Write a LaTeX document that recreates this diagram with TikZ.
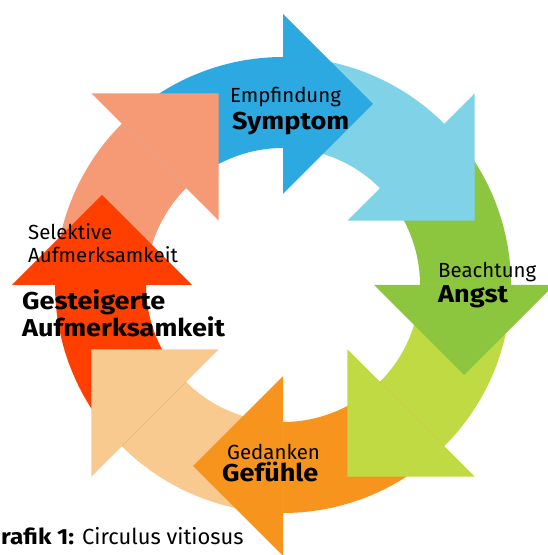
\documentclass[tikz,border=0pt]{standalone}
\usepackage{fontspec}
\setmainfont{Fira Sans}
\newfontfamily\widebf{Fira Sans}[FakeStretch=1.11]
\definecolor{cblue}{HTML}{2DA9E1}
\definecolor{clblue}{HTML}{80D3E6}
\definecolor{cgreen}{HTML}{8CC63F}
\definecolor{cyg}{HTML}{BFDA43}
\definecolor{corange}{HTML}{F7941E}
\definecolor{cpeach}{HTML}{F8CA8F}
\definecolor{cred}{HTML}{FF3F00}
\definecolor{csalmon}{HTML}{F69A75}
\begin{document}
\begin{tikzpicture}[x=1bp,y=1bp,
  lab/.style={anchor=base west, inner sep=0pt, font=\fontsize{20.5}{24}\selectfont},
  blab/.style={anchor=base west, inner sep=0pt, font=\fontsize{24.5}{29}\widebf\bfseries}]
\useasboundingbox (0,0) rectangle (548,555);
\clip (0,0) rectangle (548,555);
% ring segments (tails)
\foreach \ang/\col in {90/cblue,45/clblue,0/cgreen,-45/cyg,-90/corange,-135/cpeach,-180/cred,-225/csalmon}{
  \fill[\col, shift={(283,270)}, rotate=\ang-90]
    (135:228) arc[start angle=135, end angle=90, radius=228]
    -- (90:137) arc[start angle=90, end angle=135, radius=137] -- cycle;
}
% arrow heads
\foreach \ang/\col in {90/cblue,45/clblue,0/cgreen,-45/cyg,-90/corange,-135/cpeach,-180/cred,-225/csalmon}{
  \fill[\col, shift={(283,270)}, rotate=\ang-90]
    (0,271) -- (0,91) -- (90,181) -- cycle;
}
% labels
\node[lab]  (e1) at (230,452) {Empfindung};
\node[blab] (s1) at (232,425) {Symptom};
\node[lab]  (e2) at (438,277) {Beachtung};
\node[blab] (s2) at (438,252) {Angst};
\node[lab]  (e3) at (227,95) {Gedanken};
\node[blab] (s3) at (222,73) {Gefühle};
\node[lab]  (e4a) at (28,315) {Selektive};
\node[lab]  (e4b) at (28,292) {Aufmerksamkeit};
\node[blab] (s4a) at (22,245) {Gesteigerte};
\node[blab] (s4b) at (22,218) {Aufmerksamkeit};
\node[anchor=base west, inner sep=0pt, font=\fontsize{22}{26}\selectfont] (cap) at (1,10) {{\widebf\bfseries rafik 1:} Circulus vitiosus};
\end{tikzpicture}
\end{document}
